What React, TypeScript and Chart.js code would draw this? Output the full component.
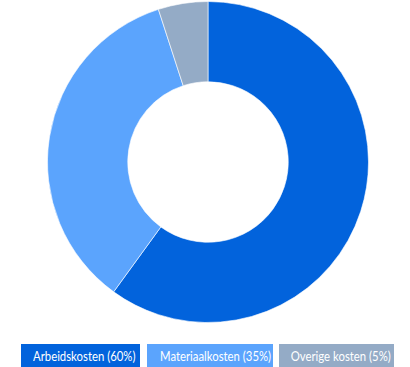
import React, { useEffect, useRef } from "react";
import { Chart, registerables } from "chart.js";

Chart.register(...registerables);

const labels = ["Arbeidskosten", "Materiaalkosten", "Overige kosten"];
const values = [60, 35, 5];
const colors = ["#0263dc", "#5ba4fd", "#94abc6"];
const legendLeft = [21, 147, 279];
const legendWidth = [119, 126, 115];

export default function App() {
  const ref = useRef<HTMLCanvasElement | null>(null);

  useEffect(() => {
    if (!ref.current) return;
    const chart = new Chart(ref.current, {
      type: "doughnut",
      data: {
        labels,
        datasets: [
          {
            data: values,
            backgroundColor: colors,
            borderColor: "rgba(255,255,255,0.6)",
            borderWidth: 1,
          },
        ],
      },
      options: {
        responsive: false,
        animation: false,
        cutout: "50%",
        plugins: { legend: { display: false }, tooltip: { enabled: false } },
      },
    });
    return () => chart.destroy();
  }, []);

  return (
    <div style={{ position: "absolute", left: 0, top: 0, width: 410, height: 367, overflow: "hidden" }}>
      <canvas
        ref={ref}
        width={322}
        height={322}
        style={{ position: "absolute", left: 47, top: 1, width: 322, height: 322 }}
      />
      {labels.map((l, i) => (
        <div
          key={l}
          style={{
            position: "absolute",
            left: legendLeft[i],
            top: 344,
            width: legendWidth[i],
            height: 23,
            lineHeight: "23px",
            background: colors[i],
            color: "#fff",
            fontFamily: "Lato, sans-serif",
            fontSize: 14,
            textAlign: "center",
            whiteSpace: "nowrap",
          }}
        >
          <span style={{ display: "inline-block", transform: "scaleX(0.81)" }}>
            {`${l} (${values[i]}%)`}
          </span>
        </div>
      ))}
    </div>
  );
}
